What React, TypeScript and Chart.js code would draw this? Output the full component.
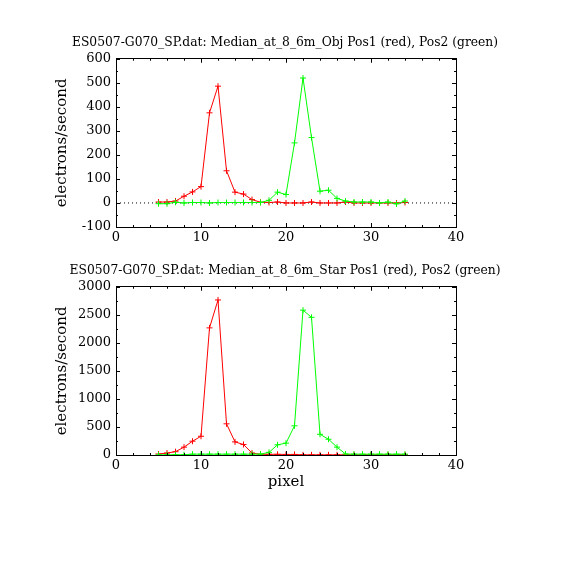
import { useEffect, useRef } from 'react';
import { Chart, registerables } from 'chart.js';

Chart.register(...registerables);

const FONT = 'DejaVu Serif';

// pixel positions along the slit
const pixels = [5, 6, 7, 8, 9, 10, 11, 12, 13, 14, 15, 16, 17, 18, 19, 20, 21, 22, 23, 24, 25, 26, 27, 28, 29, 30, 31, 32, 33, 34];

// Median_at_8_6m_Obj
const objPos1 = [4, 4, 8, 28, 46, 68, 375, 486, 134, 45, 37, 14, 3, 2, 4, 0, 0, 0, 4, 0, 0, 0, 4, 0, 0, 0, 0, 0, 0, 2];
const objPos2 = [-3, -3, 3, 0, 2, 2, 0, 2, 2, 2, 2, 2, 2, 11, 45, 35, 250, 520, 272, 49, 53, 19, 8, 4, 4, 4, 0, 4, -4, 8];

// Median_at_8_6m_Star
const starPos1 = [18, 35, 59, 140, 246, 334, 2267, 2765, 556, 234, 187, 35, 12, 12, 12, 10, 10, 3, 3, 3, 3, 3, 3, 3, 3, 3, 3, 3, 3, 3];
const starPos2 = [3, 3, 5, 5, 15, 15, 15, 15, 15, 15, 15, 15, 15, 47, 182, 211, 521, 2583, 2455, 369, 281, 140, 18, 15, 15, 15, 15, 15, 15, 15];

const xRange = [0, 40];
const zeroLine = [0, 0];

const idlTicks = {
  id: 'idlTicks',
  afterDraw(chart: any, _args: any, opts: any) {
    const { ctx, chartArea: a, scales } = chart;
    const x = scales.x;
    const y = scales.y;
    ctx.save();
    ctx.strokeStyle = '#000';
    ctx.lineWidth = 1;
    ctx.beginPath();
    for (let v = x.min; v <= x.max + 1e-6; v += opts.xMinor) {
      const px = Math.round(x.getPixelForValue(v)) + 0.5;
      const len = Math.abs(v % opts.xMajor) < 1e-6 ? 4 : 2;
      ctx.moveTo(px, a.bottom);
      ctx.lineTo(px, a.bottom - len);
      ctx.moveTo(px, a.top);
      ctx.lineTo(px, a.top + len);
    }
    for (let v = y.min; v <= y.max + 1e-6; v += opts.yMinor) {
      const py = Math.round(y.getPixelForValue(v)) + 0.5;
      const len = Math.abs(v % opts.yMajor) < 1e-6 ? 4 : 2;
      ctx.moveTo(a.left, py);
      ctx.lineTo(a.left + len, py);
      ctx.moveTo(a.right, py);
      ctx.lineTo(a.right - len, py);
    }
    ctx.stroke();
    ctx.restore();
  },
};

type PanelProps = {
  top: number;
  title: string;
  pos1: number[];
  pos2: number[];
  yMin: number;
  yMax: number;
  yStep: number;
  yMinor: number;
  xTitle?: string;
  dotted?: boolean;
  titlePad: { top: number; bottom: number };
  bottomHeight: number;
};

function Panel(p: PanelProps) {
  const canvasRef = useRef<HTMLCanvasElement>(null);

  useEffect(() => {
    if (!canvasRef.current) return;
    const pts = (vals: number[]) => pixels.map((px, i) => ({ x: px, y: vals[i] }));
    const datasets: any[] = [
      {
        data: pts(p.pos2),
        borderColor: '#00ff00',
        backgroundColor: '#00ff00',
        borderWidth: 1,
        pointStyle: 'cross',
        pointRadius: 3,
        pointBorderWidth: 1,
      },
      {
        data: pts(p.pos1),
        borderColor: '#ff0000',
        backgroundColor: '#ff0000',
        borderWidth: 1,
        pointStyle: 'cross',
        pointRadius: 3,
        pointBorderWidth: 1,
      },
    ];
    if (p.dotted) {
      datasets.push({
        data: xRange.map((xv, i) => ({ x: xv, y: zeroLine[i] })),
        borderColor: '#000',
        borderWidth: 1,
        borderDash: [1, 3],
        pointRadius: 0,
      });
    }

    const plain = (v: any) => String(v);

    const chart = new Chart(canvasRef.current, {
      type: 'line',
      data: { datasets },
      options: {
        animation: false,
        responsive: false,
        events: [],
        layout: { padding: 0 },
        plugins: {
          legend: { display: false },
          tooltip: { enabled: false },
          title: {
            display: true,
            text: p.title,
            color: '#000',
            font: { family: FONT, size: 12.3, weight: 'normal' },
            padding: p.titlePad,
          },
          idlTicks: { xMajor: 10, xMinor: 2, yMajor: p.yStep, yMinor: p.yMinor },
        } as any,
        scales: {
          x: {
            type: 'linear',
            position: 'bottom',
            min: xRange[0],
            max: xRange[1],
            ticks: { stepSize: 10, color: '#000', font: { family: FONT, size: 13 }, padding: 3, callback: plain },
            grid: { display: false, drawTicks: false },
            border: { display: true, color: '#000', width: 1 },
            title: {
              display: !!p.xTitle,
              text: p.xTitle || '',
              color: '#000',
              font: { family: FONT, size: 15 },
              padding: { top: 0, bottom: 9 },
            },
            afterFit: (s: any) => {
              s.height = p.bottomHeight;
            },
          },
          xT: {
            type: 'linear',
            position: 'top',
            min: xRange[0],
            max: xRange[1],
            ticks: { display: false },
            grid: { display: false, drawTicks: false },
            border: { display: true, color: '#000', width: 1 },
            afterFit: (s: any) => {
              s.height = 0;
            },
          },
          y: {
            type: 'linear',
            position: 'left',
            min: p.yMin,
            max: p.yMax,
            ticks: { stepSize: p.yStep, color: '#000', font: { family: FONT, size: 13 }, padding: 5, callback: plain },
            grid: { display: false, drawTicks: false },
            border: { display: true, color: '#000', width: 1 },
            title: {
              display: true,
              text: 'electrons/second',
              color: '#000',
              font: { family: FONT, size: 15 },
              padding: { top: 53, bottom: 0 },
            },
            afterFit: (s: any) => {
              s.width = 116;
            },
          },
          yR: {
            type: 'linear',
            position: 'right',
            min: p.yMin,
            max: p.yMax,
            ticks: { display: false },
            grid: { display: false, drawTicks: false },
            border: { display: true, color: '#000', width: 1 },
            afterFit: (s: any) => {
              s.width = 114;
            },
          },
        },
      },
      plugins: [idlTicks],
    });

    return () => chart.destroy();
  }, []);

  return (
    <div style={{ position: 'absolute', left: 0, top: p.top, width: 570, height: 250 }}>
      <canvas ref={canvasRef} width={570} height={250} style={{ display: 'block' }} />
    </div>
  );
}

export default function App() {
  return (
    <div style={{ position: 'absolute', left: 0, top: 0, width: 570, height: 570, background: '#fff' }}>
      <Panel
        top={0}
        title="ES0507-G070_SP.dat: Median_at_8_6m_Obj Pos1 (red), Pos2 (green)"
        pos1={objPos1}
        pos2={objPos2}
        yMin={-100}
        yMax={600}
        yStep={100}
        yMinor={50}
        dotted
        titlePad={{ top: 35, bottom: 9 }}
        bottomHeight={23}
      />
      <Panel
        top={250}
        title="ES0507-G070_SP.dat: Median_at_8_6m_Star Pos1 (red), Pos2 (green)"
        pos1={starPos1}
        pos2={starPos2}
        yMin={0}
        yMax={3000}
        yStep={500}
        yMinor={250}
        xTitle="pixel"
        titlePad={{ top: 13, bottom: 9 }}
        bottomHeight={45}
      />
    </div>
  );
}
